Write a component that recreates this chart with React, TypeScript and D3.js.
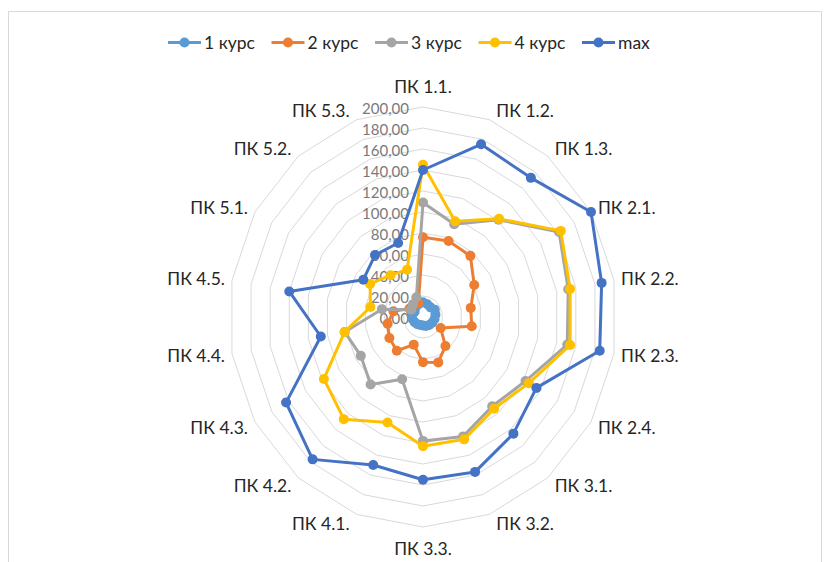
import React from 'react';
import * as d3 from 'd3';

const categories = [
  'ПК 1.1.', 'ПК 1.2.', 'ПК 1.3.', 'ПК 2.1.', 'ПК 2.2.', 'ПК 2.3.', 'ПК 2.4.',
  'ПК 3.1.', 'ПК 3.2.', 'ПК 3.3.', 'ПК 4.1.', 'ПК 4.2.', 'ПК 4.3.', 'ПК 4.4.',
  'ПК 4.5.', 'ПК 5.1.', 'ПК 5.2.', 'ПК 5.3.',
];

const course1 = [14, 13, 12, 14, 13, 12, 11, 10, 9, 8, 8, 9, 10, 11, 12, 10, 12, 13];
const course2 = [76, 77, 76, 61, 50, 51, 21, 36, 46, 43, 28, 42, 40, 37, 31, 16, 15, 14];
const course3 = [109, 94, 121, 162, 152, 151, 122, 111, 121, 118, 63, 84, 74, 82, 43, 14, 16, 20];
const course4 = [145, 97, 122, 164, 154, 154, 126, 114, 124, 123, 107, 127, 118, 82, 55, 63, 52, 48];
const maxVals = [140, 175, 173, 200, 187, 185, 135, 145, 157, 155, 150, 177, 163, 107, 140, 71, 77, 75];

const seriesNames = ['1 курс', '2 курс', '3 курс', '4 курс', 'max'];
const seriesColors = ['#5b9bd5', '#ed7d31', '#a5a5a5', '#ffc000', '#4472c4'];
const seriesData = [course1, course2, course3, course4, maxVals];

const tickValues = [0, 20, 40, 60, 80, 100, 120, 140, 160, 180, 200];
const tickLabels = tickValues.map((v) => v.toFixed(2).replace('.', ','));

const W = 830;
const H = 562;
const cx = 423;
const cy = 317;
const FONT = 'Lato, "Open Sans", sans-serif';

const rX = d3.scaleLinear().domain([0, 200]).range([0, 194]);
const rY = d3.scaleLinear().domain([0, 200]).range([0, 210]);
const angle = d3.scaleLinear().domain([0, categories.length]).range([0, 2 * Math.PI]);

const pt = (i: number, v: number): [number, number] => {
  const a = angle(i);
  return [cx + rX(v) * Math.sin(a), cy - rY(v) * Math.cos(a)];
};

const closedLine = d3.line<[number, number]>().curve(d3.curveLinearClosed);

export default function App() {
  const legendX = d3.scaleLinear().domain([0, 4]).range([168, 582]);

  return (
    <svg
      width={W}
      height={H}
      style={{ position: 'absolute', left: 0, top: 0, background: '#fff' }}
      fontFamily={FONT}
    >
      <rect x={0} y={0} width={W} height={H} fill="#fff" />
      <rect x={8.5} y={11.5} width={813} height={600} fill="none" stroke="#d9d9d9" strokeWidth={1} />

      {/* grid rings */}
      {tickValues.filter((v) => v > 0).map((v) => (
        <path
          key={`ring-${v}`}
          d={closedLine(categories.map((_, i) => pt(i, v))) || ''}
          fill="none"
          stroke="#d9d9d9"
          strokeWidth={1}
        />
      ))}

      {/* value tick labels */}
      {tickValues.map((v, k) => (
        <text
          key={`tick-${v}`}
          x={cx - 14}
          y={cy - rY(v) + 1}
          textAnchor="end"
          dominantBaseline="central"
          fontSize={15}
          fill="#7a7a7a"
        >
          {tickLabels[k]}
        </text>
      ))}

      {/* category labels */}
      {categories.map((c, i) => {
        const a = angle(i);
        const s = Math.sin(a);
        const co = Math.cos(a);
        const [px, py] = pt(i, 200);
        let anchor: 'start' | 'middle' | 'end' = 'middle';
        let x = px;
        let y = py - co * 10;
        if (Math.abs(s) < 0.01) {
          y = py - co * 21;
        } else if (s > 0) {
          anchor = 'start';
          x = px + 7;
        } else {
          anchor = 'end';
          x = px - 7;
        }
        return (
          <text
            key={`cat-${c}`}
            x={x}
            y={y}
            textAnchor={anchor}
            dominantBaseline="central"
            fontSize={17.5}
            fill="#262626"
          >
            {c}
          </text>
        );
      })}

      {/* series */}
      {seriesData.map((data, si) => {
        const pts = data.map((v, i) => pt(i, v));
        return (
          <g key={`s-${si}`}>
            <path
              d={closedLine(pts) || ''}
              fill="none"
              stroke={seriesColors[si]}
              strokeWidth={3}
              strokeLinejoin="round"
            />
            {pts.map((p, i) => (
              <circle key={i} cx={p[0]} cy={p[1]} r={5} fill={seriesColors[si]} />
            ))}
          </g>
        );
      })}

      {/* legend */}
      {seriesNames.map((n, si) => {
        const x0 = legendX(si);
        const y0 = 42.5;
        return (
          <g key={`leg-${n}`}>
            <line x1={x0} x2={x0 + 33} y1={y0} y2={y0} stroke={seriesColors[si]} strokeWidth={3} />
            <circle cx={x0 + 16.5} cy={y0} r={5} fill={seriesColors[si]} />
            <text x={x0 + 36} y={y0} dominantBaseline="central" fontSize={17.5} fill="#262626">
              {n}
            </text>
          </g>
        );
      })}
    </svg>
  );
}
